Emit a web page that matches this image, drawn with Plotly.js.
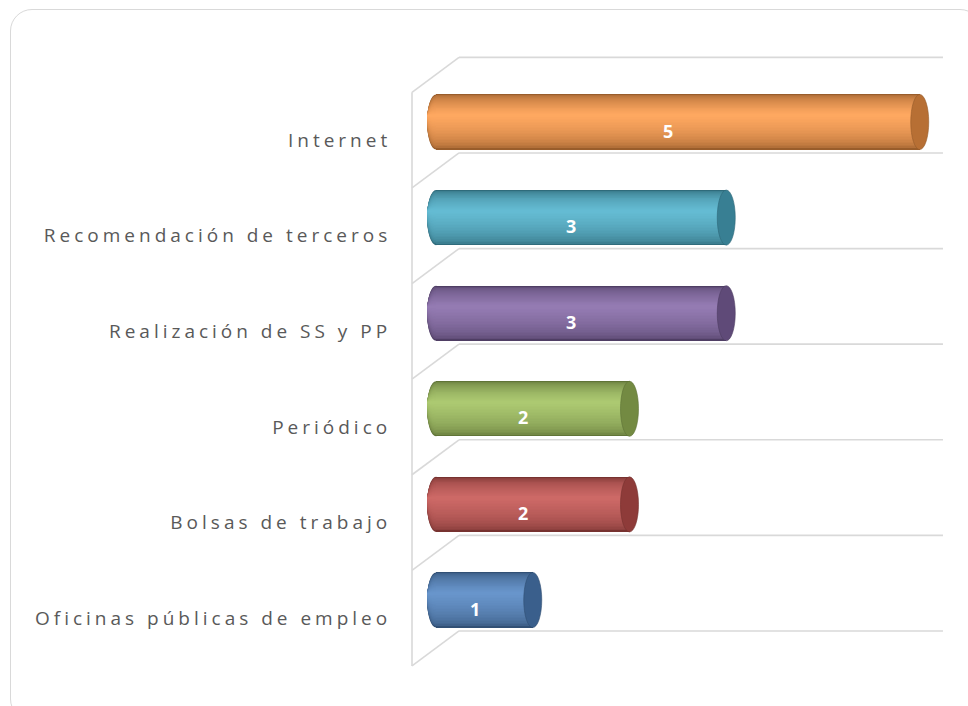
<!DOCTYPE html>
<html>
<head>
<meta charset="utf-8">
<script src="https://cdn.plot.ly/plotly-3.0.1.min.js"></script>
<style>
  html, body { margin:0; padding:0; overflow:hidden; background:#ffffff; }
  #frame { position:absolute; left:10px; top:9px; width:972px; height:712px; border:1.5px solid #d9d9d9; border-radius:22px; box-sizing:border-box; }
  #chart { position:absolute; left:0; top:0; width:968px; height:706px; }
  .ytick text { letter-spacing: 4px; }
</style>
</head>
<body>
<div id="frame"></div>
<div id="chart"></div>
<script>
// ---- data ----
const categories = ['Oficinas públicas de empleo', 'Bolsas de trabajo', 'Periódico', 'Realización de SS y PP', 'Recomendación de terceros', 'Internet'];
const values = [1, 2, 2, 3, 3, 5];
const barColors = ['#4F81BD', '#C0504D', '#9BBB59', '#8064A2', '#4BACC6', '#F79646'];
const valueLabels = values.map(v => String(v));

// ---- helpers ----
function hexToRgb(h) { h = h.replace('#',''); return [parseInt(h.substr(0,2),16), parseInt(h.substr(2,2),16), parseInt(h.substr(4,2),16)]; }
function rgbStr(c) { return 'rgb(' + c.map(v => Math.max(0, Math.min(255, Math.round(v)))).join(',') + ')'; }
function shade(c, f) { return c.map(v => v * f); }
function tint(c, f) { return c.map(v => v + (255 - v) * f); }
function mix(a, b, t) { return a.map((v, i) => v + (b[i] - v) * t); }

const idx = categories.map((_, i) => i);
const N = 22;          // shading layers of the cylinders
const H = 0.288;       // half thickness of a bar (category units)
const HL = 0.07;       // highlight offset above the centre
const aL = 0.093, aR = 0.093;  // half widths of end ellipses (value units)

const traces = [];
const shapes = [];
for (let k = 0; k < N; k++) {
  const t = k / (N - 1);
  const lo = -H + t * (H + HL) * 0.94;
  const hi = H - t * (H - HL) * 0.94;
  const cols = barColors.map(c => {
    const base = hexToRgb(c);
    return rgbStr(mix(shade(base, 0.62), tint(shade(base, 1.03), 0.13), Math.pow(t, 0.45)));
  });
  traces.push({
    type: 'bar', orientation: 'h', x: values, y: idx,
    width: hi - lo, offset: lo,
    marker: { color: cols, line: { width: 0 } },
    hoverinfo: 'skip', showlegend: false
  });
  idx.forEach(i => {
    shapes.push({ type: 'circle', xref: 'x', yref: 'y', layer: 'below',
      x0: -aL, x1: aL, y0: i + lo, y1: i + hi,
      fillcolor: cols[i], line: { width: 0 } });
  });
}
// right end caps
idx.forEach(i => {
  const base = hexToRgb(barColors[i]);
  shapes.push({ type: 'circle', xref: 'x', yref: 'y', layer: 'above',
    x0: values[i] - aR, x1: values[i] + aR, y0: i - H, y1: i + H,
    fillcolor: rgbStr(shade(base, 0.74)), line: { color: rgbStr(shade(base, 0.6)), width: 0.6 } });
});

// 3-D frame: front edge, diagonals and back lines at the category boundaries
const xFront = -0.248, xBack = 0.238, xEnd = 5.24;
const dFront = -0.69, dBack = -0.324;
const frameLine = { color: '#d9d9d9', width: 1.6 };
shapes.push({ type: 'line', xref: 'x', yref: 'y', layer: 'below', x0: xFront, x1: xFront, y0: dFront, y1: categories.length + dFront, line: frameLine });
for (let k = 0; k <= categories.length; k++) {
  shapes.push({ type: 'line', xref: 'x', yref: 'y', layer: 'below', x0: xFront, x1: xBack, y0: k + dFront, y1: k + dBack, line: frameLine });
  shapes.push({ type: 'line', xref: 'x', yref: 'y', layer: 'below', x0: xBack, x1: xEnd, y0: k + dBack, y1: k + dBack, line: frameLine });
}

const annotations = idx.map(i => ({
  x: values[i] / 2 - 0.1, y: i - 0.09, xref: 'x', yref: 'y',
  text: valueLabels[i], showarrow: false,
  font: { family: 'Open Sans, Lato, sans-serif', size: 18, color: '#ffffff', weight: 'bold' }
}));

const layout = {
  width: 968, height: 706,
  margin: { l: 402, r: 15, t: 46, b: 30, pad: 0 },
  paper_bgcolor: 'rgba(0,0,0,0)', plot_bgcolor: 'rgba(0,0,0,0)',
  barmode: 'overlay', bargap: 0,
  showlegend: false,
  xaxis: { range: [-0.3514, 5.3437], showgrid: false, zeroline: false, showline: false, showticklabels: false, ticks: '', fixedrange: true },
  yaxis: { type: 'linear', range: [-0.795, 5.795], showgrid: false, zeroline: false, showline: false,
    tickmode: 'array', tickvals: idx.map(i => i - 0.19), ticktext: categories,
    ticks: 'outside', ticklen: 6, tickcolor: 'rgba(0,0,0,0)',
    tickfont: { family: 'Open Sans, Lato, sans-serif', size: 19, color: '#595959' }, fixedrange: true },
  shapes: shapes,
  annotations: annotations
};

Plotly.newPlot('chart', traces, layout, { displayModeBar: false, staticPlot: true });
</script>
</body>
</html>
